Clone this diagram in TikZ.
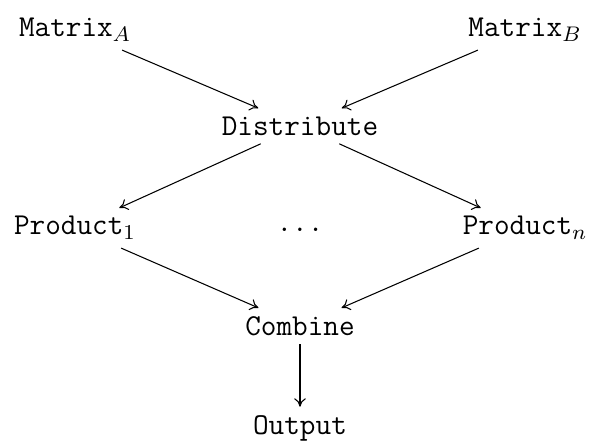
\documentclass[tikz,border=0pt]{standalone}
\usetikzlibrary{arrows.meta}
\begin{document}
\begin{tikzpicture}[x=0.3788pt,y=-0.3788pt,
  lbl/.style={font=\fontsize{11.5}{14}\selectfont\ttfamily, inner sep=3pt},
  conn/.style={-{To[length=3.2pt,width=4.4pt]}, thin}]
\useasboundingbox (0,0) rectangle (590,443);
\node[lbl] (ma) at (75,30) {Matrix$_A$};
\node[lbl] (mb) at (525,30) {Matrix$_B$};
\node[lbl] (d) at (300,126) {Distribute};
\node[lbl] (p1) at (75,228) {Product$_1$};
\node[lbl] (dots) at (300,230) {...};
\node[lbl] (pn) at (525,228) {Product$_n$};
\node[lbl] (c) at (300,326) {Combine};
\node[lbl] (o) at (300,428) {Output};
\draw[conn] (ma) -- (d);
\draw[conn] (mb) -- (d);
\draw[conn] (d) -- (p1);
\draw[conn] (d) -- (pn);
\draw[conn] (p1) -- (c);
\draw[conn] (pn) -- (c);
\draw[conn] (c) -- (o);
\end{tikzpicture}
\end{document}
